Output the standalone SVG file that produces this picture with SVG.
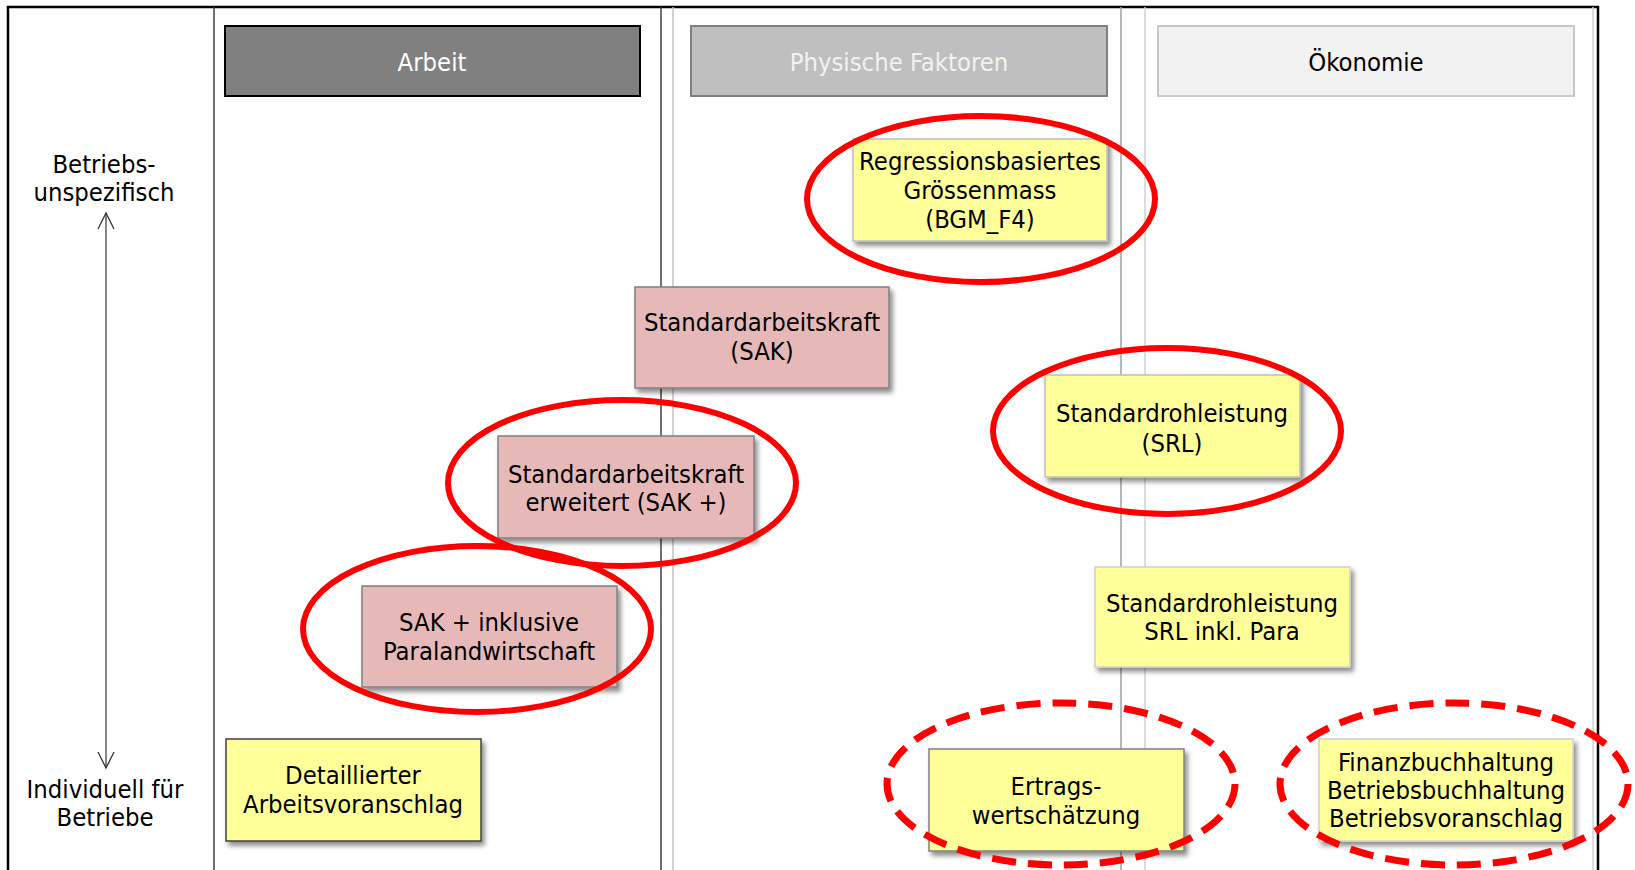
<svg xmlns="http://www.w3.org/2000/svg" width="1635" height="870" viewBox="0 0 1635 870">
<style>
text{font-family:"DejaVu Sans Condensed","DejaVu Sans",sans-serif;font-stretch:condensed;font-size:25.4px;text-anchor:middle;fill:#000}
.hdr{stroke-width:2}
.yel{fill:#ffff99}
.pink{fill:#e6b9b8;stroke:#7f7f7f;stroke-width:1.5}
.ell{fill:none;stroke:#ff0000;stroke-width:6}
.dash{stroke-dasharray:24 12;stroke-width:7}
.lane{stroke-width:1.5;fill:none}
</style>
<defs>
<filter id="sh" x="-10%" y="-10%" width="130%" height="140%">
<feDropShadow dx="3" dy="4" stdDeviation="2.5" flood-color="#000" flood-opacity="0.45"/>
</filter>
<marker id="ah" viewBox="0 0 20 20" refX="18" refY="10" markerWidth="20" markerHeight="20" markerUnits="userSpaceOnUse" orient="auto-start-reverse">
<path d="M2,2 L18,10 L2,18" fill="none" stroke="#333" stroke-width="1.3"/>
</marker>
</defs>
<rect width="1635" height="870" fill="#fff"/>
<g id="frame">
<path d="M8,880 V7 H1598 V880" fill="none" stroke="#000" stroke-width="2.5"/>
<line class="lane" x1="214" y1="7" x2="214" y2="870" stroke="#404040"/>
<line class="lane" x1="661" y1="7" x2="661" y2="870" stroke="#404040"/>
<line class="lane" x1="673" y1="7" x2="673" y2="870" stroke="#c0c0c0"/>
<line class="lane" x1="1121" y1="7" x2="1121" y2="870" stroke="#a0a0a0"/>
<line class="lane" x1="1145" y1="7" x2="1145" y2="870" stroke="#d0d0d0"/>
<line class="lane" x1="1593" y1="7" x2="1593" y2="870" stroke="#d0d0d0"/>
</g>
<g id="header-arbeit">
<rect class="hdr" x="225" y="26" width="415" height="70" fill="#808080" stroke="#000"/>
<text x="432" y="71" style="fill:#fff">Arbeit</text>
</g>
<g id="header-physisch">
<rect class="hdr" x="691" y="26" width="416" height="70" fill="#bfbfbf" stroke="#808080"/>
<text x="899" y="71" style="fill:#f2f2f2">Physische Faktoren</text>
</g>
<g id="header-oekonomie">
<rect class="hdr" x="1158" y="26" width="416" height="70" fill="#f2f2f2" stroke="#c8c8c8"/>
<text x="1366" y="71">Ökonomie</text>
</g>
<g id="axis">
<text x="104" y="173">Betriebs-</text>
<text x="104" y="201">unspezifisch</text>
<text x="105" y="798">Individuell für</text>
<text x="105" y="826">Betriebe</text>
</g>
<g id="connectors">
<line x1="106" y1="213" x2="106" y2="768" stroke="#333" stroke-width="1.2" marker-start="url(#ah)" marker-end="url(#ah)"/>
</g>
<g id="n-bgm">
<rect class="yel" x="853" y="139" width="254" height="102" stroke="#bfbfbf" stroke-width="1.5" filter="url(#sh)"/>
<text x="980" y="170">Regressionsbasiertes</text>
<text x="980" y="199">Grössenmass</text>
<text x="980" y="228">(BGM_F4)</text>
</g>
<g id="n-sak">
<rect class="pink" x="635" y="287" width="254" height="101" filter="url(#sh)"/>
<text x="762" y="331">Standardarbeitskraft</text>
<text x="762" y="360">(SAK)</text>
</g>
<g id="n-sakplus">
<rect class="pink" x="498" y="436" width="256" height="102" filter="url(#sh)"/>
<text x="626" y="483">Standardarbeitskraft</text>
<text x="626" y="511">erweitert (SAK +)</text>
</g>
<g id="n-sakpara">
<rect class="pink" x="362" y="586" width="255" height="101" stroke="#404040" filter="url(#sh)"/>
<text x="489" y="631">SAK + inklusive</text>
<text x="489" y="660">Paralandwirtschaft</text>
</g>
<g id="n-detail">
<rect class="yel" x="226" y="739" width="255" height="102" stroke="#404040" stroke-width="1.5" filter="url(#sh)"/>
<text x="353" y="784">Detaillierter</text>
<text x="353" y="813">Arbeitsvoranschlag</text>
</g>
<g id="n-srl">
<rect class="yel" x="1045" y="375" width="255" height="102" stroke="#bfbfbf" stroke-width="1.5" filter="url(#sh)"/>
<text x="1172" y="422">Standardrohleistung</text>
<text x="1172" y="452">(SRL)</text>
</g>
<g id="n-srlpara">
<rect class="yel" x="1095" y="567" width="255" height="100" stroke="#d0d0d0" stroke-width="1.5" filter="url(#sh)"/>
<text x="1222" y="612">Standardrohleistung</text>
<text x="1222" y="640">SRL inkl. Para</text>
</g>
<g id="n-ertrag">
<rect class="yel" x="929" y="749" width="255" height="102" stroke="#808080" stroke-width="1.5" filter="url(#sh)"/>
<text x="1056" y="795">Ertrags-</text>
<text x="1056" y="824">wertschätzung</text>
</g>
<g id="n-finanz">
<rect class="yel" x="1319" y="739" width="254" height="102" stroke="#d0d0d0" stroke-width="1.5" filter="url(#sh)"/>
<text x="1446" y="771">Finanzbuchhaltung</text>
<text x="1446" y="799">Betriebsbuchhaltung</text>
<text x="1446" y="827">Betriebsvoranschlag</text>
</g>
<g id="highlights">
<ellipse class="ell" cx="981" cy="199" rx="174" ry="83"/>
<ellipse class="ell" cx="622" cy="483" rx="174" ry="83"/>
<ellipse class="ell" cx="477" cy="629" rx="174" ry="83"/>
<ellipse class="ell" cx="1167" cy="431" rx="174" ry="83"/>
<ellipse class="ell dash" cx="1061" cy="784" rx="174" ry="81"/>
<ellipse class="ell dash" cx="1454" cy="784" rx="174" ry="81"/>
</g>
</svg>
